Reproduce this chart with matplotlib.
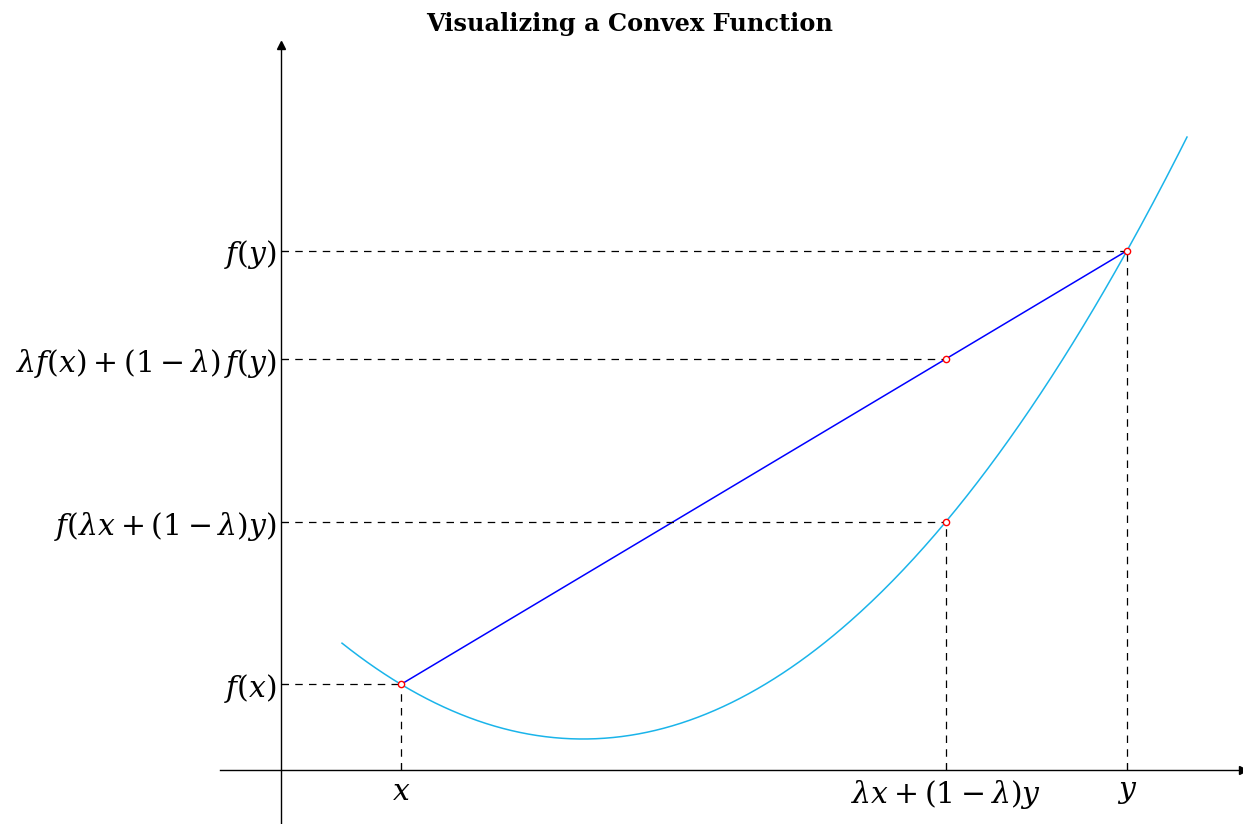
import numpy as np
from matplotlib import pyplot as plt

plt.rcParams['mathtext.fontset'] = 'dejavuserif'
plt.rcParams['font.family'] = ['DejaVu Serif']

# convex function f(t) = a (t - t0)^2 + c
a, t0, c = 0.165, 3.02, 0.31
t_start, t_end = 0.61, 9.06
x_pt, y_pt = 1.2, 8.46
lam = 0.25

x_labels = [r'$x$', r'$\lambda x + (1-\lambda) y$', r'$y$']
y_labels = [r'$f(x)$', r'$f(\lambda x + (1-\lambda) y)$',
            r'$\lambda f(x) + (1-\lambda)\,f(y)$', r'$f(y)$']


def f(t):
    return a * (t - t0) ** 2 + c


m_pt = lam * x_pt + (1 - lam) * y_pt
fx, fy, fm = f(x_pt), f(y_pt), f(m_pt)
chord = lam * fx + (1 - lam) * fy

fig = plt.figure(figsize=(12.43, 8.24), dpi=100)
ax = fig.add_axes([220 / 1243, 0.0, 1 - 220 / 1243, 1 - 45 / 824])
xmin, xmax = -0.61, 9.62
ymin, ymax = -0.54, 7.25
ax.set_xlim(xmin, xmax)
ax.set_ylim(ymin, ymax)

for s in ['top', 'right']:
    ax.spines[s].set_visible(False)
ax.spines['left'].set_position(('data', 0))
ax.spines['bottom'].set_position(('data', 0))
ax.spines['left'].set_linewidth(1.0)
ax.spines['bottom'].set_linewidth(1.0)
ax.plot(1, 0, '>', color='black', markersize=6, transform=ax.get_yaxis_transform(), clip_on=False)
ax.plot(0, 1, '^', color='black', markersize=6, transform=ax.get_xaxis_transform(), clip_on=False)

t = np.linspace(t_start, t_end, 400)
ax.plot(t, f(t), color='#1ab4ea', lw=1.1)
ax.plot([x_pt, y_pt], [fx, fy], color='#0000ff', lw=1.1)

dash = dict(color='black', lw=0.9, linestyle=(0, (6, 5)))
for px, py in [(x_pt, fx), (m_pt, chord), (y_pt, fy)]:
    ax.plot([0, px], [py, py], **dash)
ax.plot([m_pt, m_pt], [0, fm], **dash)
ax.plot([0, m_pt], [fm, fm], **dash)
ax.plot([x_pt, x_pt], [0, fx], **dash)
ax.plot([y_pt, y_pt], [0, fy], **dash)

ax.plot([x_pt, m_pt, m_pt, y_pt], [fx, fm, chord, fy], 'o', ms=4.5,
        mfc='white', mec='red', mew=1.0, zorder=5)

ax.set_xticks([x_pt, m_pt, y_pt])
ax.set_xticklabels(x_labels)
ax.set_yticks([fx, fm, chord, fy])
ax.set_yticklabels(y_labels)
ax.tick_params(axis='both', direction='in', length=5, width=0.8, labelsize=21.5, pad=3)
ax.tick_params(axis='x', pad=6)

fig.text(629.5 / 1243, 1 - 24 / 824, 'Visualizing a Convex Function', fontsize=17.3,
         fontweight='bold', ha='center', va='center')

plt.savefig('out.png', dpi=100)
